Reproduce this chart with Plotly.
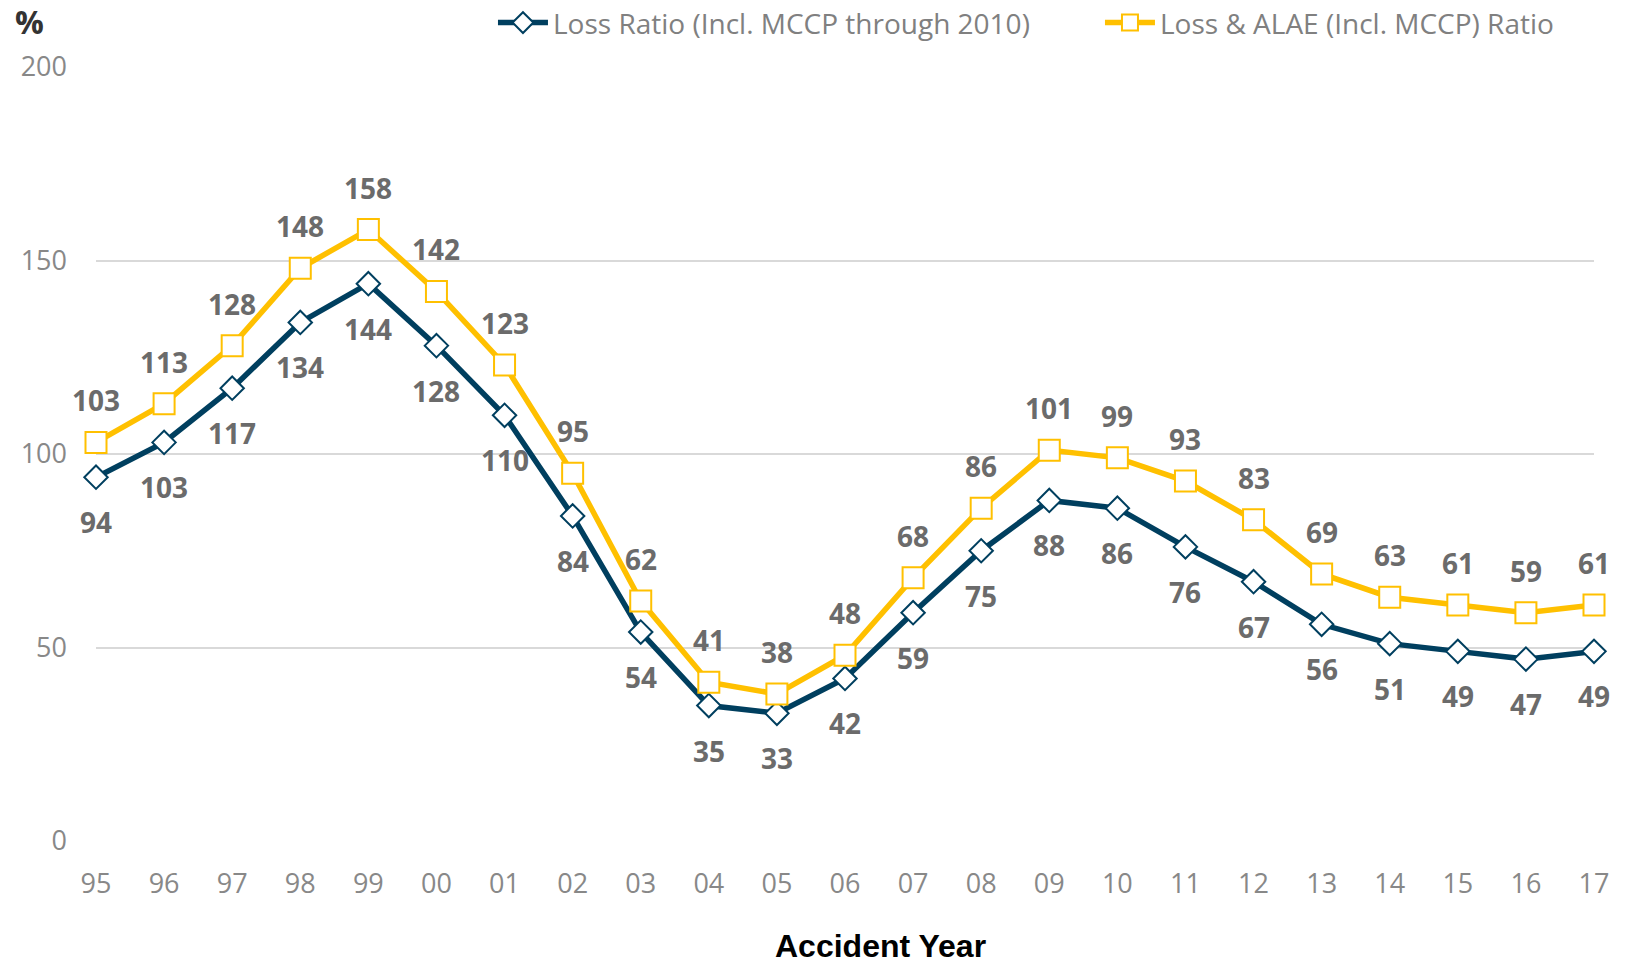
import plotly.graph_objects as go

years = ["95","96","97","98","99","00","01","02","03","04","05","06","07","08","09","10","11","12","13","14","15","16","17"]
loss_ratio = [94,103,117,134,144,128,110,84,54,35,33,42,59,75,88,86,76,67,56,51,49,47,49]
loss_alae_ratio = [103,113,128,148,158,142,123,95,62,41,38,48,68,86,101,99,93,83,69,63,61,59,61]

NAVY = "#003F5F"
GOLD = "#FFC000"
FONT = "Open Sans"
xs = list(range(len(years)))

fig = go.Figure()
fig.add_trace(go.Scatter(
    x=xs, y=loss_ratio, mode="lines+markers", name="Loss Ratio (Incl. MCCP through 2010)",
    line=dict(color=NAVY, width=5.5),
    marker=dict(symbol="diamond", size=18, color="white", line=dict(color=NAVY, width=2)),
    cliponaxis=False,
))
fig.add_trace(go.Scatter(
    x=xs, y=loss_alae_ratio, mode="lines+markers", name="Loss & ALAE (Incl. MCCP) Ratio",
    line=dict(color=GOLD, width=5.5),
    marker=dict(symbol="square", size=21, color="white", line=dict(color=GOLD, width=2)),
    cliponaxis=False,
))

annotations = []
for x, v in zip(xs, loss_ratio):
    annotations.append(dict(x=x, y=v, text=str(v), showarrow=False, yshift=-45,
                            font=dict(family=FONT, size=28, color="#6B6B6B", weight="bold")))
for x, v in zip(xs, loss_alae_ratio):
    annotations.append(dict(x=x, y=v, text=str(v), showarrow=False, yshift=42,
                            font=dict(family=FONT, size=28, color="#6B6B6B", weight="bold")))
annotations.append(dict(xref="paper", yref="paper", x=-0.0447, y=1.059, text="%", showarrow=False,
                        xanchor="center", yanchor="middle",
                        font=dict(family=FONT, size=32, color="#333333", weight="bold")))
annotations.append(dict(xref="paper", yref="paper", x=0.5234, y=-0.136, text="Accident Year", showarrow=False,
                        xanchor="center", yanchor="middle",
                        font=dict(family="Liberation Sans", size=32, color="#000000", weight="bold")))

fig.update_layout(
    width=1634, height=963,
    margin=dict(l=88, r=48, t=59, b=130, autoexpand=False),
    plot_bgcolor="white", paper_bgcolor="white",
    font=dict(family=FONT, color="#808080"),
    showlegend=True,
    legend=dict(orientation="h", x=0.265, xanchor="left", y=1.057, yanchor="middle",
                font=dict(family=FONT, size=28, color="#808080"), entrywidth=542, itemwidth=50,
                bgcolor="rgba(0,0,0,0)"),
    annotations=annotations,
    xaxis=dict(range=[0, len(years) - 1], tickvals=xs, ticktext=years, showgrid=False,
               zeroline=False, showline=False, ticks="", ticklabelstandoff=24, automargin=False,
               tickfont=dict(family=FONT, size=27, color="#888888")),
    yaxis=dict(range=[0, 200], dtick=50, showgrid=True, gridcolor="#D9D9D9", gridwidth=1.5,
               zeroline=False, showline=False, ticks="", ticklabelstandoff=28, automargin=False,
               tickfont=dict(family=FONT, size=27, color="#888888")),
)

fig.write_html("out.html")
